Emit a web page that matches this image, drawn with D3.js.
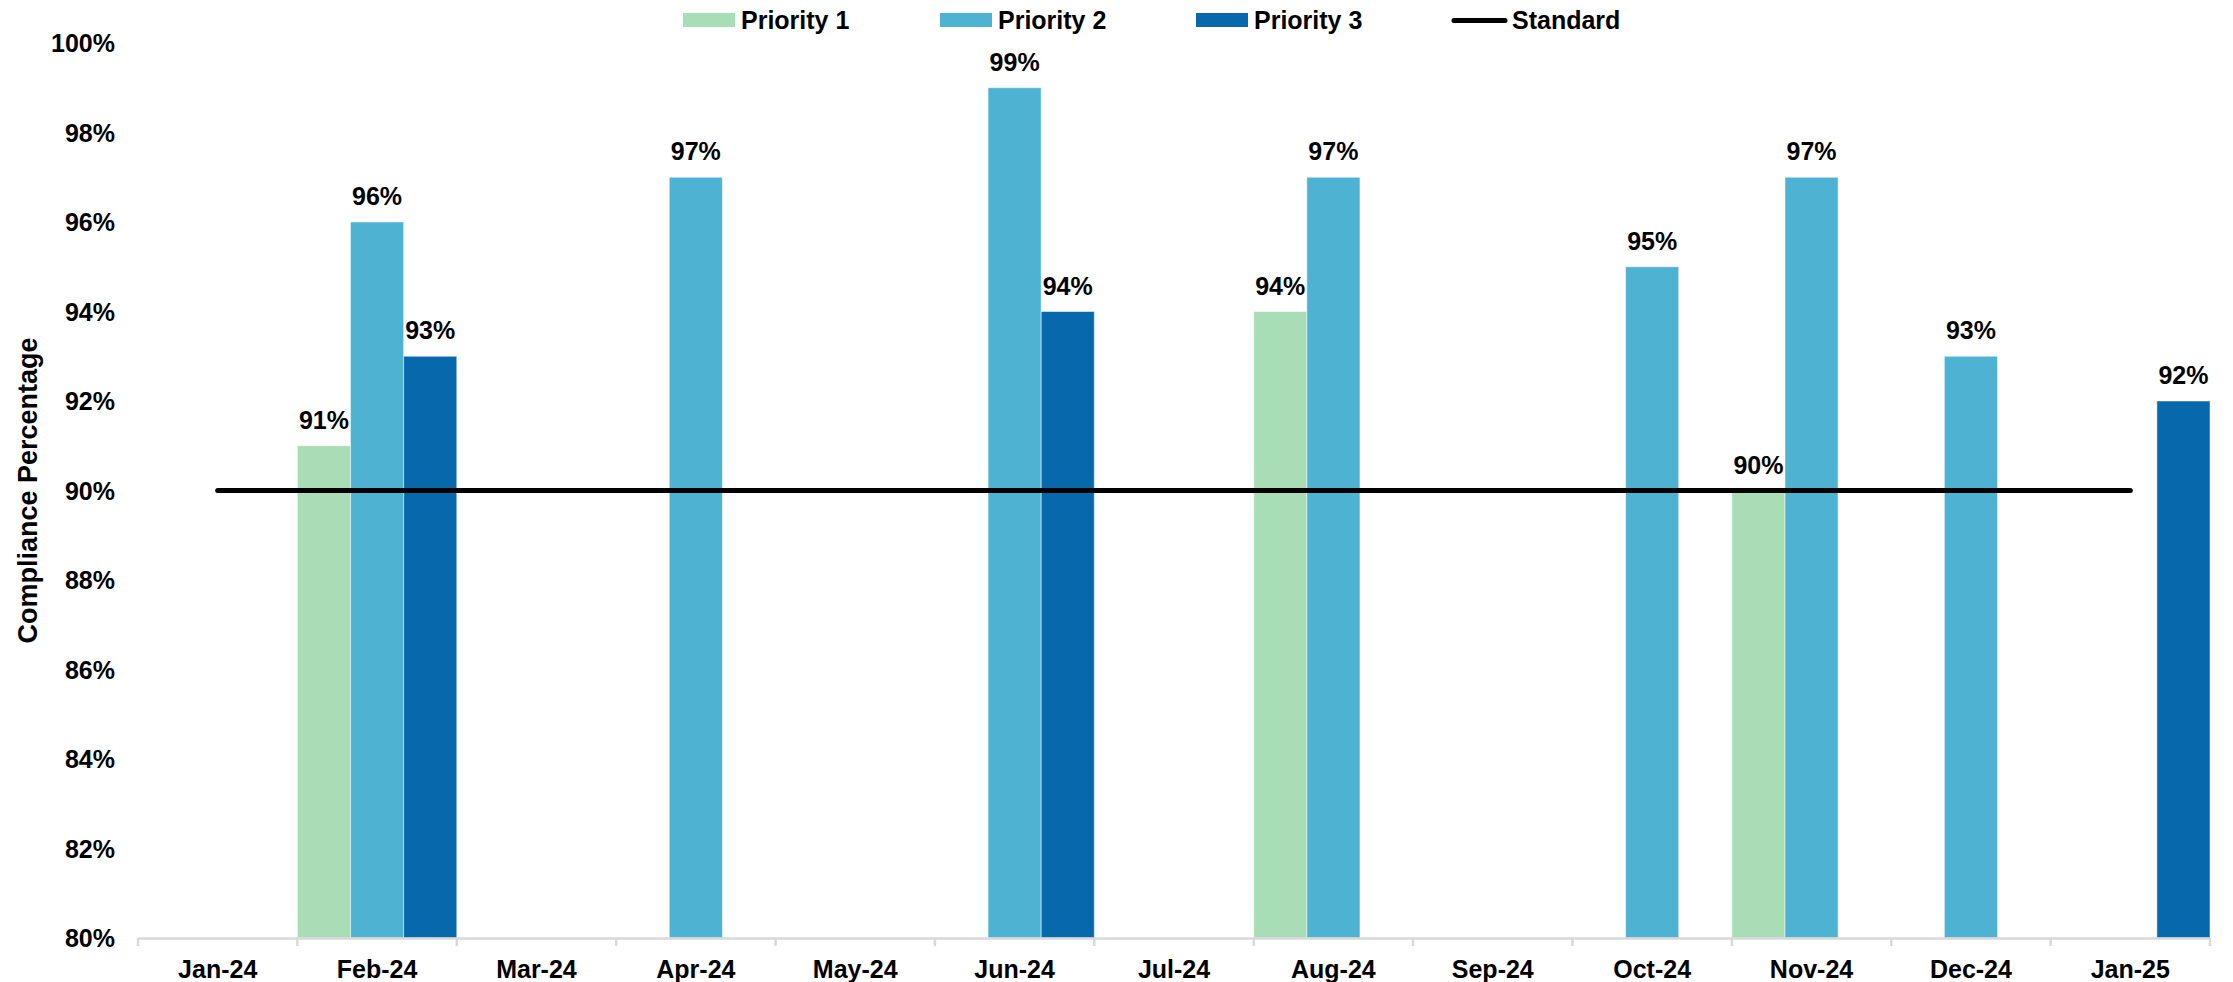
<!DOCTYPE html>
<html>
<head>
<meta charset="utf-8">
<script src="https://cdn.jsdelivr.net/npm/d3@7"></script>
<style>
  body { margin: 0; background: #fff; }
  svg text { font-family: "Liberation Sans", Arial, sans-serif; font-weight: bold; fill: #000; }
</style>
</head>
<body>
<div id="chart"></div>
<script>
// Chart data
const months = ["Jan-24", "Feb-24", "Mar-24", "Apr-24", "May-24", "Jun-24", "Jul-24",
                "Aug-24", "Sep-24", "Oct-24", "Nov-24", "Dec-24", "Jan-25"];
const priority1 = [null, 91, null, null, null, null, null, 94, null, null, 90, null, null];
const priority2 = [null, 96, null, 97, null, 99, null, 97, null, 95, 97, 93, null];
const priority3 = [null, 93, null, null, null, 94, null, null, null, null, null, null, 92];
const standard = [90, 90, 90, 90, 90, 90, 90, 90, 90, 90, 90, 90, 90];
const yTicks = [80, 82, 84, 86, 88, 90, 92, 94, 96, 98, 100];

const seriesNames = ["Priority 1", "Priority 2", "Priority 3"];
const seriesValues = [priority1, priority2, priority3];
const colors = ["#a8ddb5", "#4eb3d3", "#0868ac"];

// Dimensions
const W = 2233, H = 982;
const margin = { top: 43, right: 23, bottom: 44, left: 138 };
const width = W - margin.left - margin.right;
const height = H - margin.top - margin.bottom;

const root = d3.select("#chart").append("svg")
    .attr("width", W)
    .attr("height", H);

const svg = root.append("g")
    .attr("transform", `translate(${margin.left},${margin.top})`);

// Scales
const x0 = d3.scaleBand().domain(months).range([0, width]).padding(0);
const x1 = d3.scaleBand().domain(seriesNames).range([0, x0.bandwidth()]).padding(0);
const y = d3.scaleLinear().domain([80, 100]).range([height, 0]);

// Y axis (labels only)
const yAxis = svg.append("g")
    .call(d3.axisLeft(y).tickValues(yTicks).tickFormat(d => d + "%").tickSize(0).tickPadding(23));
yAxis.select(".domain").remove();
yAxis.selectAll("text").style("font-size", "25px").attr("dy", "0.35em");

// Y axis title
root.append("text")
    .attr("transform", `translate(37,${margin.top + height / 2}) rotate(-90)`)
    .attr("text-anchor", "middle")
    .style("font-size", "27px")
    .text("Compliance Percentage");

// Bars
seriesNames.forEach((name, si) => {
    const data = months.map((m, i) => ({ month: m, value: seriesValues[si][i] }))
        .filter(d => d.value != null);

    svg.append("g").selectAll("rect")
        .data(data)
        .join("rect")
        .attr("x", d => x0(d.month) + x1(name))
        .attr("y", d => y(d.value))
        .attr("width", x1.bandwidth())
        .attr("height", d => y(80) - y(d.value))
        .attr("fill", colors[si])
        .attr("stroke", "#ffffff")
        .attr("stroke-opacity", 0.5)
        .attr("stroke-width", 1);

    svg.append("g").selectAll("text")
        .data(data)
        .join("text")
        .attr("x", d => x0(d.month) + x1(name) + x1.bandwidth() / 2)
        .attr("y", d => y(d.value) - 17)
        .attr("text-anchor", "middle")
        .style("font-size", "25px")
        .text(d => d.value + "%");
});

// X axis
const xAxis = svg.append("g")
    .attr("transform", `translate(0,${height})`)
    .call(d3.axisBottom(x0).tickSize(0).tickPadding(22));
xAxis.select(".domain").attr("stroke", "#d9d9d9").attr("stroke-width", 2.5);
xAxis.selectAll("text").style("font-size", "25px");

// tick marks on category boundaries
const edges = months.map(m => x0(m)).concat([width]);
xAxis.selectAll(".edge")
    .data(edges)
    .join("line")
    .attr("class", "edge")
    .attr("x1", d => d).attr("x2", d => d)
    .attr("y1", 0).attr("y2", 8)
    .attr("stroke", "#d9d9d9")
    .attr("stroke-width", 2.5);

// Standard line
const line = d3.line()
    .x((d, i) => x0(months[i]) + x0.bandwidth() / 2)
    .y(d => y(d));

svg.append("path")
    .datum(standard)
    .attr("d", line)
    .attr("fill", "none")
    .attr("stroke", "#000")
    .attr("stroke-width", 5)
    .attr("stroke-linecap", "round");

// Legend
const legendX = [683, 940, 1196, 1452];
const legendNames = seriesNames.concat(["Standard"]);
const legend = root.append("g");
legendNames.forEach((name, i) => {
    const g = legend.append("g").attr("transform", `translate(${legendX[i]},0)`);
    if (i < 3) {
        g.append("rect")
            .attr("x", 0).attr("y", 13)
            .attr("width", 52).attr("height", 14)
            .attr("fill", colors[i]);
    } else {
        g.append("line")
            .attr("x1", 2).attr("x2", 53)
            .attr("y1", 20.5).attr("y2", 20.5)
            .attr("stroke", "#000")
            .attr("stroke-width", 5)
            .attr("stroke-linecap", "round");
    }
    g.append("text")
        .attr("x", i < 3 ? 58 : 60)
        .attr("y", 29)
        .style("font-size", "25px")
        .text(name);
});
</script>
</body>
</html>
